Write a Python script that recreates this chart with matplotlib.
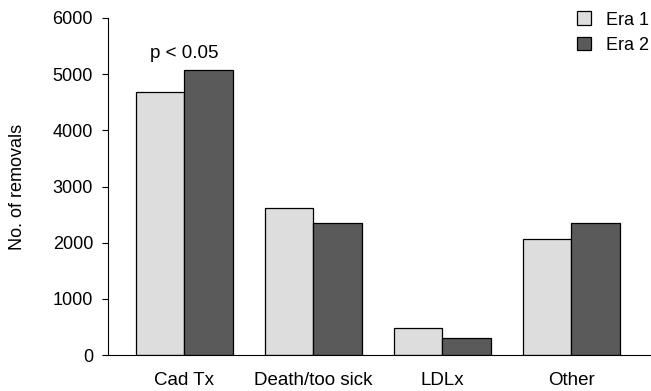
import matplotlib.pyplot as plt
import numpy as np

plt.rcParams['font.family'] = ['Liberation Sans', 'DejaVu Sans']

categories = ['Cad Tx', 'Death/too sick', 'LDLx', 'Other']
era1 = [4680, 2610, 480, 2070]
era2 = [5080, 2350, 310, 2350]
yticks = [0, 1000, 2000, 3000, 4000, 5000, 6000]

x = np.arange(len(categories))
w = 0.376

fig = plt.figure(figsize=(6.51, 3.91), dpi=100)
ax = fig.add_axes([0.166, 0.092, 0.834, 0.862])

ax.bar(x - w / 2, era1, w, color='#dddddd', edgecolor='black', linewidth=0.9, label='Era 1')
ax.bar(x + w / 2, era2, w, color='#5a5a5a', edgecolor='black', linewidth=0.9, label='Era 2')

ax.text(x[0], 5360, 'p < 0.05', ha='center', va='center', fontsize=13.5)

ax.set_xlim(-0.592, 3.62)
ax.set_ylim(0, 6000)
ax.set_yticks(yticks)
ax.set_xticks(x)
ax.set_xticklabels(categories)
ax.tick_params(axis='x', length=0, pad=12.5, labelsize=13.5)
ax.tick_params(axis='y', length=4.3, width=0.8, labelsize=13, pad=6.5)

fig.text(18 / 651, 1 - 186.5 / 391, 'No. of removals', rotation=90,
         ha='center', va='center', fontsize=13)

for s in ['top', 'right']:
    ax.spines[s].set_visible(False)
ax.spines['left'].set_linewidth(0.8)
ax.spines['bottom'].set_linewidth(0.8)

fig.legend(loc='upper left', bbox_to_anchor=(577 / 651, 1 - 11.5 / 391), frameon=False,
           fontsize=13, borderpad=0, borderaxespad=0,
           handlelength=0.77, handleheight=0.77, handletextpad=0.83, labelspacing=0.45)

fig.savefig('out.png', dpi=100)
